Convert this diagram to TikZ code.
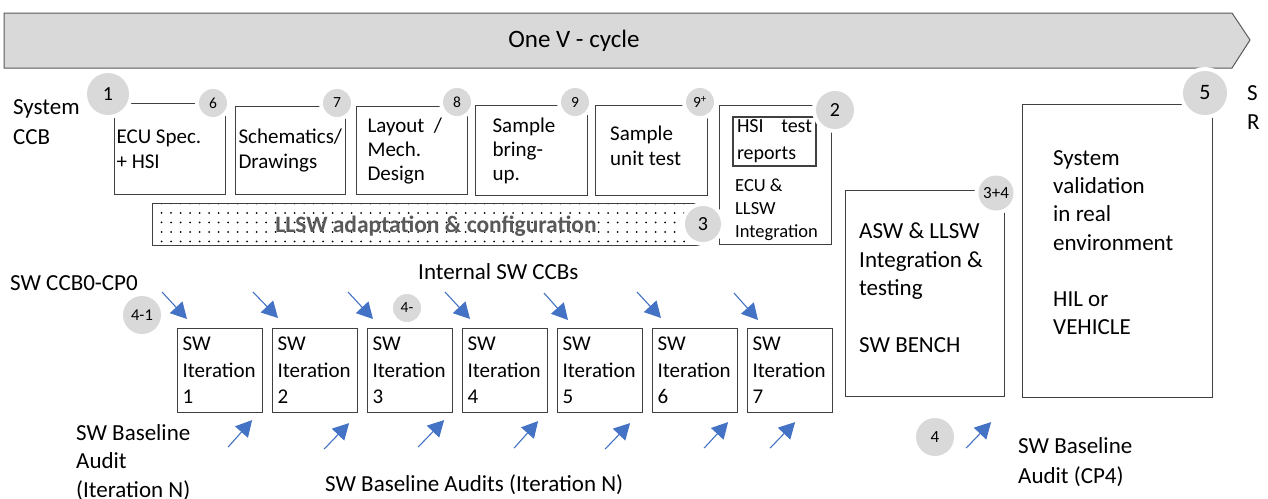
\documentclass[tikz,border=0pt]{standalone}
\usepackage{fontspec}
\setmainfont{Carlito}
\usetikzlibrary{arrows.meta,calc,patterns.meta}
\definecolor{numgray}{RGB}{217,217,217}
\definecolor{arrowblue}{RGB}{68,114,196}
\definecolor{bargray}{RGB}{89,89,89}
\tikzset{
  stepbox/.style={draw=black!75, line width=1.1pt, anchor=north west, align=flush left, inner ysep=0pt, font=\fontsize{21}{25}\selectfont},
  itbox/.style={stepbox, minimum height=84pt, text width=75pt, inner xsep=5pt, font=\fontsize{21}{26.5}\selectfont},
  badge/.style={circle, fill=numgray, inner sep=0pt, minimum size=#1, font=\fontsize{15.5}{18}\selectfont, preaction={draw=white, line width=8pt}},
  lbl/.style={anchor=north west, inner sep=0pt, align=flush left, font=\fontsize{23}{28.5}\selectfont},
  ccb/.style={draw=arrowblue, line width=1.1pt, -{Triangle[length=16pt,width=17pt]}}
}
\begin{document}
\begin{tikzpicture}[x=1pt,y=-1pt]
\useasboundingbox (0,0) rectangle (1268,498);

\path[draw=black!65, fill=numgray, line width=1pt] (4,13) -- (1232,13) -- (1250,40) -- (1232,68) -- (4,68) -- cycle;
\node[font=\fontsize{25}{30}\selectfont] (vcycle) at (574,41) {One V - cycle};

\node[draw=black!75, line width=1.1pt, pattern={Dots[radius=1pt,distance=9.5pt]}, minimum width=551pt, minimum height=42pt, anchor=north west, inner sep=0pt] (llsw) at (152,203) {};
\node[font=\fontsize{23.5}{28}\selectfont\bfseries, text=bargray] (llswt) at (436,226) {LLSW adaptation \& configuration};

\node[stepbox, minimum height=91pt, text width=107pt, inner xsep=2pt] (ecu) at (114,103) {ECU Spec.\\+ HSI};
\node[stepbox, minimum height=88pt, text width=104pt, inner xsep=3pt] (sch) at (235,106) {Schematics/\\Drawings};
\node[stepbox, minimum height=88pt, text width=89pt, inner xsep=11pt, font=\fontsize{21}{24}\selectfont] (lay) at (356,106) {Layout\ \ /\\Mech.\\Design};
\node[stepbox, minimum height=90pt, text width=78pt, inner xsep=17pt, font=\fontsize{21}{24}\selectfont] (bring) at (475,105) {Sample\\bring-\\up.};
\node[stepbox, minimum width=112pt, minimum height=90pt] (unit) at (595,105) {};
\node[lbl, font=\fontsize{21}{25}\selectfont] (unitt) at (610,125.5) {Sample\\unit test};
\node[stepbox, minimum width=112pt, minimum height=139pt] (integ) at (719,105) {};
\node[draw=black!75, line width=1.1pt, minimum height=49pt, text width=75pt, inner xsep=4pt, inner ysep=0pt, align=flush left, font=\fontsize{20}{27}\selectfont] (hsi) at (774.5,141.5) {HSI\hfill test\\reports};
\node[lbl, font=\fontsize{18.5}{23}\selectfont] (ecut) at (735,179) {ECU \&\\LLSW\\Integration};

\node[stepbox, minimum width=159pt, minimum height=206pt] (asw) at (845,190) {};
\node[lbl] (aswt) at (859,223) {ASW \& LLSW\\Integration \&\\testing\\\mbox{}\\SW BENCH};
\node[stepbox, minimum width=190pt, minimum height=293pt] (sysval) at (1022,104) {};
\node[lbl, font=\fontsize{23}{28.3}\selectfont] (sysvalt) at (1053,150) {System\\validation\\in real\\environment\\\mbox{}\\HIL or\\VEHICLE};

\node[itbox] (it1) at (177,328) {SW\\Iteration\\1};
\node[itbox] (it2) at (272,328) {SW\\Iteration\\2};
\node[itbox] (it3) at (367,328) {SW\\Iteration\\3};
\node[itbox] (it4) at (462,328) {SW\\Iteration\\4};
\node[itbox] (it5) at (557,328) {SW\\Iteration\\5};
\node[itbox] (it6) at (652,328) {SW\\Iteration\\6};
\node[itbox] (it7) at (747,328) {SW\\Iteration\\7};

\node[badge=42pt, font=\fontsize{20}{24}\selectfont] (n1) at (108,94) {1};
\node[badge=28pt] (n6) at (213,103) {6};
\node[badge=28pt] (n7) at (337,103) {7};
\node[badge=28pt] (n8) at (457,102) {8};
\node[badge=28pt] (n9) at (575,102) {9};
\node[badge=28pt] (n9p) at (700,102) {9\textsuperscript{+}};
\node[badge=38pt, font=\fontsize{20}{24}\selectfont] (n2) at (835,110) {2};
\node[badge=36pt, font=\fontsize{20}{24}\selectfont] (n3) at (703,224) {3};
\node[badge=35pt, font=\fontsize{17}{20}\selectfont] (n34) at (996,193) {3+4};
\node[badge=44pt, font=\fontsize{22}{26}\selectfont] (n5) at (1205,93) {5};
\node[badge=38pt, font=\fontsize{16.5}{20}\selectfont] (n41) at (142,315) {4-1};
\node[badge=28pt] (n4m) at (407,308) {4-};
\node[badge=38pt, font=\fontsize{17}{20}\selectfont] (n4) at (935,437) {4};

\draw[ccb] ($(it1.north west)+(-15,-36)$) -- ($(it1.north west)+(10,-9)$);
\draw[ccb] ($(it2.north west)+(-19,-36)$) -- ($(it2.north west)+(6,-10)$);
\draw[ccb] ($(it3.north west)+(-19,-36)$) -- ($(it3.north west)+(6,-9)$);
\draw[ccb] ($(it4.north west)+(-17,-36)$) -- ($(it4.north west)+(8,-9)$);
\draw[ccb] ($(it5.north west)+(-13,-35)$) -- ($(it5.north west)+(11,-8)$);
\draw[ccb] ($(it6.north west)+(-15,-36)$) -- ($(it6.north west)+(9,-10)$);
\draw[ccb] ($(it7.north west)+(-13,-35)$) -- ($(it7.north west)+(11,-8)$);

\draw[ccb] ($(it1.south east)+(-35,34)$) -- ($(it1.south east)+(-11,7)$);
\draw[ccb] ($(it2.south east)+(-34,36)$) -- ($(it2.south east)+(-9,10)$);
\draw[ccb] ($(it3.south east)+(-35,34)$) -- ($(it3.south east)+(-9,7)$);
\draw[ccb] ($(it4.south east)+(-34,35)$) -- ($(it4.south east)+(-10,8)$);
\draw[ccb] ($(it5.south east)+(-38,36)$) -- ($(it5.south east)+(-13,10)$);
\draw[ccb] ($(it6.south east)+(-34,35)$) -- ($(it6.south east)+(-10,9)$);
\draw[ccb] ($(it7.south east)+(-63,35)$) -- ($(it7.south east)+(-38,9)$);
\draw[ccb] ($(asw.south east)+(-39,51)$) -- ($(asw.south east)+(-14,25)$);

\node[lbl, font=\fontsize{23}{30}\selectfont] (sysccb) at (13,99) {System\\CCB};
\node[lbl, font=\fontsize{23}{29}\selectfont] (sr) at (1247,85) {S\\R};
\node[lbl] (ccb0) at (10,275) {SW CCB0-CP0};
\node[lbl] (intccb) at (418,263) {Internal SW CCBs};
\node[lbl] (audit1) at (76,424) {SW Baseline\\Audit\\(Iteration N)};
\node[lbl] (audits) at (325,474) {SW Baseline Audits (Iteration N)};
\node[lbl, font=\fontsize{23}{30}\selectfont] (audit4) at (1018,437) {SW Baseline\\Audit (CP4)};
\end{tikzpicture}
\end{document}
